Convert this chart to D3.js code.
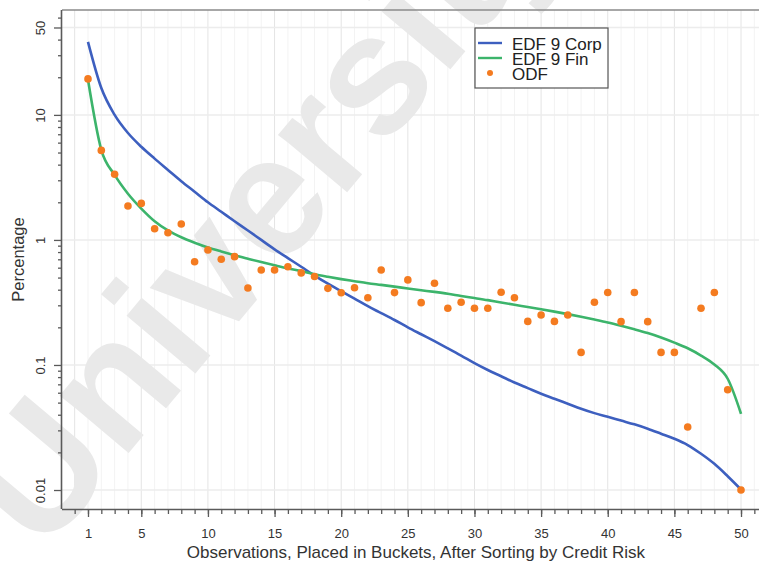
<!DOCTYPE html>
<html>
<head>
<meta charset="utf-8">
<script src="https://cdn.jsdelivr.net/npm/d3@7/dist/d3.min.js"></script>
<style>
body { margin: 0; background: #fff; }
svg text { font-family: "Liberation Sans", Arial, sans-serif; fill: #333; }
</style>
</head>
<body>
<div id="chart"></div>
<script>
// buckets 1..50 after sorting by credit risk
const buckets = [1, 2, 3, 4, 5, 6, 7, 8, 9, 10, 11, 12, 13, 14, 15, 16, 17, 18, 19, 20,
    21, 22, 23, 24, 25, 26, 27, 28, 29, 30, 31, 32, 33, 34, 35, 36, 37, 38, 39, 40,
    41, 42, 43, 44, 45, 46, 47, 48, 49, 50];

const edfCorp = [38.4, 16.4, 10.0, 7.16, 5.56, 4.47, 3.63, 2.95, 2.43, 2.00,
    1.68, 1.41, 1.19, 1.00, 0.841, 0.716, 0.610, 0.519, 0.447, 0.389,
    0.339, 0.295, 0.260, 0.229, 0.200, 0.176, 0.155, 0.136, 0.119, 0.1035,
    0.0912, 0.0813, 0.0724, 0.0653, 0.0589, 0.0537, 0.0490, 0.0447, 0.0412, 0.0385,
    0.0359, 0.0335, 0.0309, 0.0282, 0.0257, 0.0229, 0.0195, 0.0162, 0.0129, 0.0101];

const edfFin = [19.1, 5.25, 3.31, 2.34, 1.78, 1.41, 1.19, 1.05, 0.951, 0.871,
    0.809, 0.755, 0.708, 0.665, 0.627, 0.592, 0.562, 0.531, 0.507, 0.486,
    0.468, 0.451, 0.437, 0.423, 0.409, 0.396, 0.384, 0.371, 0.356, 0.343,
    0.330, 0.316, 0.303, 0.291, 0.279, 0.267, 0.255, 0.243, 0.231, 0.219,
    0.206, 0.193, 0.180, 0.166, 0.151, 0.136, 0.119, 0.101, 0.0776, 0.0407];

const odf = [19.4, 5.2, 3.35, 1.87, 1.96, 1.23, 1.14, 1.34, 0.67, 0.83,
    0.70, 0.735, 0.413, 0.575, 0.575, 0.61, 0.545, 0.51, 0.41, 0.378,
    0.415, 0.345, 0.575, 0.379, 0.479, 0.315, 0.45, 0.284, 0.317, 0.284,
    0.284, 0.382, 0.345, 0.223, 0.251, 0.223, 0.251, 0.126, 0.317, 0.38,
    0.222, 0.38, 0.222, 0.126, 0.126, 0.0319, 0.284, 0.38, 0.0633, 0.01];

const xTickLabels = [1, 5, 10, 15, 20, 25, 30, 35, 40, 45, 50];
const yTickLabels = [0.01, 0.1, 1, 10, 50];
const yMinorTicks = [0.02, 0.03, 0.04, 0.05, 0.06, 0.07, 0.08, 0.09,
    0.2, 0.3, 0.4, 0.5, 0.6, 0.7, 0.8, 0.9,
    2, 3, 4, 5, 6, 7, 8, 9, 20, 30, 40, 60];
const seriesNames = ["EDF 9 Corp", "EDF 9 Fin", "ODF"];
const seriesColors = ["#3d5fbf", "#3cb46b", "#f47b20"];

/**
 * Constructor for the bucket chart
 */
function BucketChart(){
    var self = this;
    self.init();
};

/**
 * Sets up the svg, scales and the plot group
 */
BucketChart.prototype.init = function(){
    var self = this;
    self.margin = {top: 10, right: 0, bottom: 55, left: 62};
    self.svgWidth = 759;
    self.svgHeight = 564;
    self.width = self.svgWidth - self.margin.left - self.margin.right;
    self.height = self.svgHeight - self.margin.top - self.margin.bottom;

    self.svg = d3.select("#chart").append("svg")
        .attr("width", self.svgWidth)
        .attr("height", self.svgHeight);

    self.x = d3.scaleLinear().domain([-0.95, 51.35]).range([0, self.width]);
    self.y = d3.scaleLog().domain([0.00705, 69]).range([self.height, 0]);

    self.g = self.svg.append("g")
        .attr("transform", "translate(" + self.margin.left + "," + self.margin.top + ")");
};

/**
 * Draws grid, axes, lines, points and legend
 */
BucketChart.prototype.update = function(){
    var self = this;
    var x = self.x, y = self.y, g = self.g;

    //light grid, every bucket plus stronger every 5
    var minorX = d3.range(0, 52);
    g.append("g").selectAll("line").data(minorX).enter().append("line")
        .attr("x1", d => x(d)).attr("x2", d => x(d))
        .attr("y1", 0).attr("y2", self.height)
        .attr("stroke", d => d % 5 == 0 ? "#e4e4e4" : "#f3f3f3")
        .attr("stroke-width", 1);
    g.append("g").selectAll("line").data(yTickLabels).enter().append("line")
        .attr("x1", 0).attr("x2", self.width)
        .attr("y1", d => y(d)).attr("y2", d => y(d))
        .attr("stroke", "#ececec").attr("stroke-width", 1.5);

    //watermark, kept under the data
    g.append("text").text("University")
        .attr("transform", "translate(" + (42 - self.margin.left) + "," + (556 - self.margin.top) + ") rotate(-50)")
        .style("font-size", "170px")
        .style("font-weight", "bold")
        .style("fill", "#e9e9e9");

    //top border
    g.append("line").attr("x1", 0).attr("x2", self.width).attr("y1", 0).attr("y2", 0)
        .attr("stroke", "#8a8a8a").attr("stroke-width", 1.5);

    //x axis: minor then major ticks
    var xMinor = g.append("g").attr("transform", "translate(0," + self.height + ")")
        .call(d3.axisBottom(x).tickValues(minorX).tickSize(5).tickFormat(""));
    var xMajor = g.append("g").attr("transform", "translate(0," + self.height + ")")
        .call(d3.axisBottom(x).tickValues(xTickLabels).tickSize(8).tickFormat(d3.format("d")));
    xMajor.selectAll("text").attr("y", 29).attr("dy", 0).style("font-size", "13px");

    var yMinor = g.append("g")
        .call(d3.axisLeft(y).tickValues(yMinorTicks).tickSize(4).tickFormat(""));
    var yMajor = g.append("g")
        .call(d3.axisLeft(y).tickValues(yTickLabels).tickSize(8).tickFormat(d => d));
    yMajor.selectAll("text")
        .attr("x", 0).attr("y", -17).attr("dy", 0)
        .attr("transform", "rotate(-90)")
        .style("text-anchor", "middle").style("font-size", "13px");

    [xMinor, xMajor, yMinor, yMajor].forEach(function(a){
        a.select(".domain").attr("stroke", "#5a5a5a").attr("stroke-width", 1.6);
        a.selectAll(".tick line").attr("stroke", "#5a5a5a").attr("stroke-width", 1.3);
    });
    xMinor.select(".domain").attr("d", "M0,0.5H" + self.width);
    xMajor.select(".domain").remove();
    yMinor.select(".domain").attr("d", "M-0.5," + self.height + "V0");
    yMajor.select(".domain").remove();

    //series lines
    var line = d3.line()
        .x((d, i) => x(buckets[i]))
        .y(d => y(d))
        .curve(d3.curveMonotoneX);
    [edfCorp, edfFin].forEach(function(series, k){
        g.append("path").datum(series)
            .attr("d", line)
            .attr("fill", "none")
            .attr("stroke", seriesColors[k])
            .attr("stroke-width", 2.6);
    });

    g.append("g").selectAll("circle").data(odf).enter().append("circle")
        .attr("cx", (d, i) => x(buckets[i]))
        .attr("cy", d => y(d))
        .attr("r", 3.8)
        .attr("fill", seriesColors[2]);

    //axis titles
    self.svg.append("text").text("Observations, Placed in Buckets, After Sorting by Credit Risk")
        .attr("x", 416).attr("y", 558)
        .style("text-anchor", "middle").style("font-size", "17px");
    self.svg.append("text").text("Percentage")
        .attr("transform", "translate(24," + (self.margin.top + self.height / 2) + ") rotate(-90)")
        .style("text-anchor", "middle").style("font-size", "16.5px");

    //legend
    var legend = self.svg.append("g").attr("transform", "translate(475,28)");
    legend.append("rect").attr("width", 133).attr("height", 60)
        .attr("fill", "#fff").attr("stroke", "#555").attr("stroke-width", 1.2);
    seriesNames.forEach(function(name, k){
        var row = legend.append("g").attr("transform", "translate(0," + (15 + k * 15) + ")");
        if (k < 2){
            row.append("line").attr("x1", 3).attr("x2", 27).attr("y1", 0).attr("y2", 0)
                .attr("stroke", seriesColors[k]).attr("stroke-width", 2.4);
        } else {
            row.append("circle").attr("cx", 15).attr("cy", 0).attr("r", 3).attr("fill", seriesColors[k]);
        }
        row.append("text").text(name).attr("x", 37).attr("y", 7)
            .style("font-size", "17px").style("fill", "#222");
    });
};

var chart = new BucketChart();
chart.update();
</script>
</body>
</html>
